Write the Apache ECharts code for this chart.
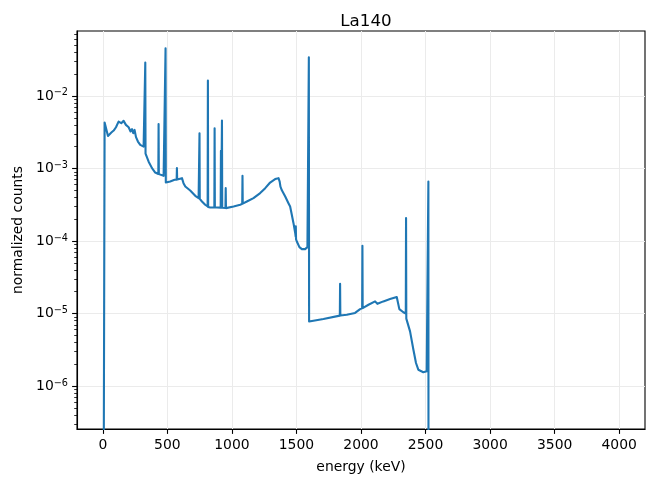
<!DOCTYPE html>
<html>
<head>
<meta charset="utf-8">
<script src="https://cdn.jsdelivr.net/npm/echarts@6/dist/echarts.min.js"></script>
<style>html,body{margin:0;padding:0;background:#fff}#chart{width:653px;height:483px}</style>
</head>
<body>
<div id="chart"></div>
<script>
// energy (keV) and normalized counts
const energy = [0, 10, 14, 40, 66, 84, 102, 122, 143, 161, 179, 200, 215, 226, 236, 246, 257, 272, 290, 316, 327, 329, 331, 334, 355, 381, 406, 430, 432, 434, 445, 471, 484, 486, 488, 491, 522, 556, 572, 574, 576, 587, 613, 625, 639, 677, 716, 742, 747, 749, 751, 768, 793, 812, 814, 816, 832, 864, 866, 868, 884, 913, 915, 917, 921, 923, 925, 950, 952, 954, 961, 1013, 1064, 1080, 1082, 1084, 1116, 1167, 1219, 1258, 1296, 1335, 1361, 1370, 1376, 1387, 1413, 1438, 1451, 1464, 1477, 1490, 1494, 1495, 1497, 1503, 1523, 1542, 1567, 1585, 1594, 1596, 1598, 1709, 1836, 1838, 1840, 1890, 1954, 1993, 2009, 2011, 2013, 2058, 2109, 2127, 2173, 2225, 2277, 2297, 2328, 2347, 2349, 2351, 2354, 2380, 2406, 2426, 2444, 2483, 2509, 2520, 2522, 2524, 3999];
const counts = [0, 0, 4.29e-3, 2.81e-3, 3.13e-3, 3.33e-3, 3.70e-3, 4.43e-3, 4.21e-3, 4.53e-3, 3.99e-3, 3.70e-3, 3.23e-3, 3.48e-3, 3.06e-3, 3.40e-3, 2.70e-3, 2.35e-3, 2.11e-3, 2.00e-3, 1.95e-3, 2.88e-2, 1.60e-3, 1.54e-3, 1.24e-3, 1.01e-3, 8.79e-4, 8.40e-4, 4.11e-3, 8.35e-4, 8.17e-4, 7.91e-4, 7.85e-4, 4.54e-2, 6.40e-4, 6.40e-4, 6.61e-4, 6.97e-4, 7.00e-4, 1.01e-3, 7.05e-4, 7.13e-4, 7.35e-4, 6.27e-4, 5.64e-4, 4.97e-4, 4.20e-4, 3.90e-4, 3.85e-4, 3.06e-3, 3.80e-4, 3.50e-4, 3.16e-4, 2.99e-4, 1.63e-2, 2.95e-4, 2.90e-4, 2.90e-4, 3.59e-3, 2.90e-4, 2.90e-4, 2.88e-4, 1.75e-3, 2.88e-4, 2.87e-4, 4.57e-3, 2.87e-4, 2.85e-4, 5.35e-4, 2.84e-4, 2.84e-4, 2.99e-4, 3.16e-4, 3.25e-4, 7.91e-4, 3.27e-4, 3.50e-4, 3.90e-4, 4.57e-4, 5.35e-4, 6.40e-4, 7.13e-4, 7.35e-4, 6.60e-4, 5.60e-4, 5.00e-4, 4.10e-4, 3.32e-4, 2.99e-4, 2.30e-4, 1.76e-4, 1.30e-4, 1.15e-4, 1.60e-4, 1.05e-4, 9.84e-5, 8.24e-5, 7.73e-5, 7.73e-5, 8.24e-5, 8.60e-5, 3.41e-2, 7.78e-6, 8.39e-6, 9.35e-6, 2.57e-5, 9.40e-6, 9.62e-6, 1.02e-5, 1.15e-5, 1.18e-5, 8.59e-5, 1.19e-5, 1.32e-5, 1.47e-5, 1.36e-5, 1.47e-5, 1.58e-5, 1.69e-5, 1.15e-5, 1.04e-5, 1.00e-5, 2.07e-4, 8.50e-6, 8.22e-6, 5.68e-6, 3.17e-6, 2.08e-6, 1.68e-6, 1.55e-6, 1.60e-6, 1.70e-6, 6.61e-4, 0, 0];
const xTicks = [0, 500, 1000, 1500, 2000, 2500, 3000, 3500, 4000];
const yDecades = [-6, -5, -4, -3, -2];
const yMinorTicks = [];
for (let n = -7; n <= -2; n++) {
  for (let k = 2; k <= 9; k++) {
    const v = Math.log10(k) + n;
    if (v > -6.592 && v < -1.105) yMinorTicks.push(v);
  }
}

const FONT = 'DejaVu Sans';
const chart = echarts.init(document.getElementById('chart'), null, {renderer: 'canvas'});
const seriesData = energy.map((e, i) => [e, counts[i] > 0 ? Math.log10(counts[i]) : -12]);

chart.setOption({
  animation: false,
  backgroundColor: '#fff',
  title: {
    text: 'La140', left: 361, top: 8, textAlign: 'center',
    textStyle: {fontFamily: FONT, fontSize: 16.7, fontWeight: 'normal', color: '#000'}
  },
  grid: {left: 77, right: 8, top: 31, bottom: 54, show: true, borderColor: '#000', borderWidth: 1.1, backgroundColor: 'transparent'},
  xAxis: {
    type: 'value', min: -200, max: 4200,
    name: 'energy (keV)', nameLocation: 'middle', nameGap: 31,
    nameTextStyle: {fontFamily: FONT, fontSize: 13.9, color: '#000'},
    axisLine: {show: true, onZero: false, lineStyle: {color: '#000', width: 1.1}},
    axisTick: {show: true, customValues: xTicks, length: 4.9, lineStyle: {color: '#000', width: 1.1}},
    axisLabel: {customValues: xTicks, margin: 9, fontFamily: FONT, fontSize: 13.9, color: '#000', formatter: v => String(v)},
    splitLine: {show: true, lineStyle: {color: '#ebebeb', width: 1}}
  },
  yAxis: [{
    type: 'value', min: -6.592, max: -1.105,
    name: 'normalized counts', nameLocation: 'middle', nameGap: 50, nameRotate: 90,
    nameTextStyle: {fontFamily: FONT, fontSize: 13.9, color: '#000'},
    axisLine: {show: true, onZero: false, lineStyle: {color: '#000', width: 1.1}},
    axisTick: {show: true, customValues: yDecades, length: 4.9, lineStyle: {color: '#000', width: 1.1}},
    axisLabel: {
      customValues: yDecades, margin: 9,
      formatter: v => '{b|10}{s|\u2212' + Math.abs(Math.round(v)) + '}',
      rich: {
        b: {fontFamily: FONT, fontSize: 13.9, color: '#000', lineHeight: 16},
        s: {fontFamily: FONT, fontSize: 9.7, color: '#000', verticalAlign: 'top', lineHeight: 10}
      }
    },
    splitLine: {show: true, lineStyle: {color: '#ebebeb', width: 1}}
  }, {
    type: 'value', min: -6.592, max: -1.105, position: 'left', offset: 0,
    axisLine: {show: false, onZero: false},
    axisTick: {show: true, customValues: yMinorTicks, length: 2.8, lineStyle: {color: '#000', width: 0.8}},
    axisLabel: {show: false},
    splitLine: {show: false}
  }],
  series: [{
    type: 'line', data: seriesData, yAxisIndex: 0,
    showSymbol: false, symbol: 'none', clip: true,
    lineStyle: {color: '#1f77b4', width: 2.1, join: 'round'}
  }]
});
</script>
</body>
</html>
